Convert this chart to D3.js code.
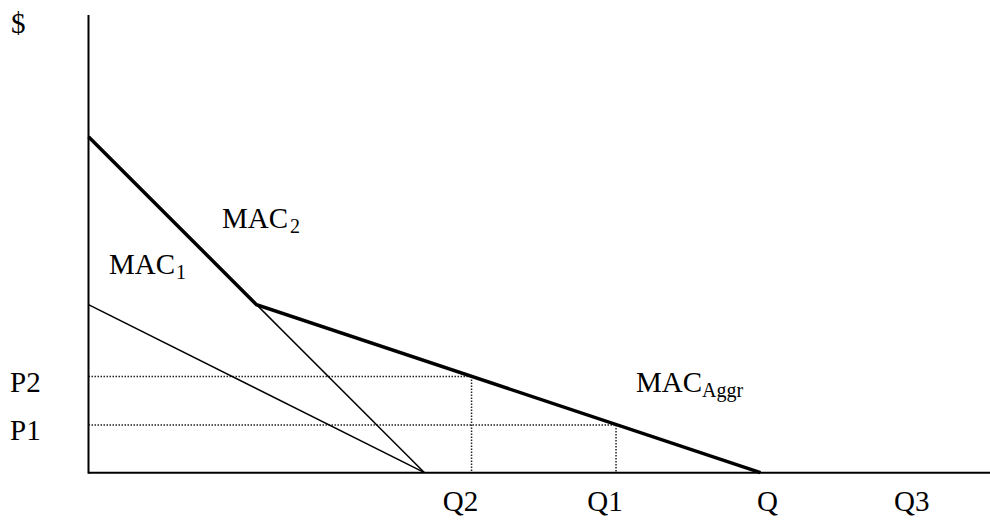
<!DOCTYPE html>
<html>
<head>
<meta charset="utf-8">
<script src="https://cdn.jsdelivr.net/npm/d3@7"></script>
<style>
  body { margin: 0; background: #fff; }
  text { font-family: "Liberation Serif", "Times New Roman", serif; fill: #000; }
</style>
</head>
<body>
<div id="chart"></div>
<script>
// curves in (quantity, price) units
const mac1 = [{q: 0, p: 5}, {q: 10, p: 0}]
const mac2 = [{q: 0, p: 10}, {q: 10, p: 0}]
const macAggr = [{q: 0, p: 10}, {q: 5, p: 5}, {q: 20, p: 0}]

// price levels and the quantities where they meet the aggregate curve
const priceLabels = ['P2', 'P1']
const priceValues = [2.86, 1.42]
const priceQty = [11.4, 15.7]

// quantity tick labels
const qLabels = ['Q2', 'Q1', 'Q', 'Q3']
const qValues = [11.4, 15.7, 20, 24.5]

const width = 990, height = 521
const fontSize = 29

const svg = d3.select('#chart').append('svg')
    .attr('width', width)
    .attr('height', height)

const x = d3.scaleLinear().domain([0, 26.83]).range([88.5, 990])
const y = d3.scaleLinear().domain([0, 13.62]).range([472.7, 15])

const line = d3.line().x(d => x(d.q)).y(d => y(d.p))

// dotted guides
priceValues.forEach((p, i) => {
    svg.append('line')
        .attr('x1', x(0)).attr('x2', x(priceQty[i]))
        .attr('y1', y(p)).attr('y2', y(p))
        .attr('stroke', '#222').attr('stroke-width', 1.5)
        .attr('stroke-dasharray', '1.5,1.5')
    svg.append('line')
        .attr('x1', x(priceQty[i])).attr('x2', x(priceQty[i]))
        .attr('y1', y(p)).attr('y2', y(0))
        .attr('stroke', '#222').attr('stroke-width', 1.5)
        .attr('stroke-dasharray', '1.5,1.5')
})

// curves
svg.append('path').datum(mac1).attr('d', line)
    .attr('fill', 'none').attr('stroke', '#000').attr('stroke-width', 1.5)
svg.append('path').datum(mac2).attr('d', line)
    .attr('fill', 'none').attr('stroke', '#000').attr('stroke-width', 1.5)
svg.append('path').datum(macAggr).attr('d', line)
    .attr('fill', 'none').attr('stroke', '#000').attr('stroke-width', 3.5)
    .attr('stroke-linejoin', 'miter')

// axes
svg.append('line')
    .attr('x1', x(0)).attr('x2', x(0))
    .attr('y1', y(13.62)).attr('y2', y(0) + 1)
    .attr('stroke', '#000').attr('stroke-width', 2)
svg.append('line')
    .attr('x1', x(0)).attr('x2', x(26.83))
    .attr('y1', y(0)).attr('y2', y(0))
    .attr('stroke', '#000').attr('stroke-width', 2)

// axis labels
svg.append('text').text('$')
    .attr('x', 11).attr('y', 33)
    .style('font-size', fontSize + 'px')

priceLabels.forEach((t, i) => {
    svg.append('text').text(t)
        .attr('x', 10).attr('y', y(priceValues[i]) + 15)
        .style('font-size', fontSize + 'px')
})

const qOffsets = [-11, -11, 7, 0]
qLabels.forEach((t, i) => {
    svg.append('text').text(t)
        .attr('x', x(qValues[i]) + qOffsets[i])
        .attr('y', 511)
        .attr('text-anchor', 'middle')
        .style('font-size', fontSize + 'px')
})

// curve labels with subscripts
function curveLabel(sub, px, py, gap) {
    const t = svg.append('text')
        .attr('x', px).attr('y', py)
        .style('font-size', fontSize + 'px')
    t.append('tspan').text('MAC')
    t.append('tspan').text(sub)
        .attr('dx', gap)
        .attr('dy', 5)
        .style('font-size', '20px')
}
curveLabel('2', 222, 228, 2)
curveLabel('1', 109, 274, 1)
curveLabel('Aggr', 636, 392, 0)
</script>
</body>
</html>
